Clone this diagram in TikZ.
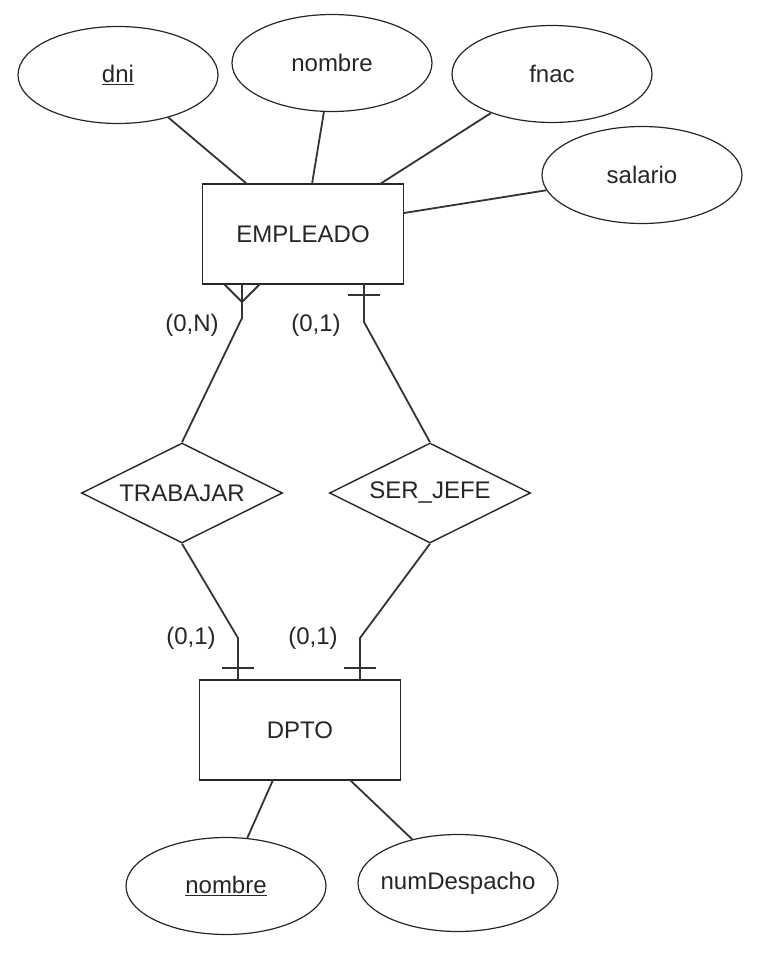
\documentclass[tikz,border=0pt]{standalone}
\usepackage{fontspec}
\setmainfont{Liberation Sans}
\usetikzlibrary{shapes.geometric,calc}
\begin{document}
\begin{tikzpicture}[x=1pt,y=-1pt, line width=1.8pt, draw=black!85, text=black!85,
  font=\fontsize{24}{28}\selectfont,
  attr/.style={draw, ellipse, minimum width=200pt, minimum height=97pt, inner xsep=-30pt, inner ysep=0pt, line width=1.2pt},
  ent/.style={draw, rectangle, minimum width=201pt, minimum height=100pt, inner sep=0pt},
  rel/.style={draw, diamond, aspect=2, minimum width=201pt, minimum height=100pt, inner sep=0pt, line width=1.4pt},
  lbl/.style={inner sep=0pt},
  conn/.style={draw=black!80, line width=1.8pt}]
\useasboundingbox (0,0) rectangle (758,968);

% entities and relations
\node[ent] (emp) at (303,234) {EMPLEADO};
\node[ent] (dpto) at (300,730) {DPTO};
\node[rel] (trab) at (182,493) {TRABAJAR};
\node[rel] (jefe) at (430,493) {SER\_JEFE};

% attributes
\node[attr] (dni) at (118,75) {\underline{dni}};
\node[attr] (nom) at (332,63) {nombre};
\node[attr] (fnac) at (552,74) {fnac};
\node[attr] (sal) at (642,175) {salario};
\node[attr] (dnom) at (226,886) {\underline{nombre}};
\node[attr] (desp) at (458,883) {numDespacho};

% attachment coordinates
\coordinate (e1) at (247,184);
\coordinate (e2) at (312,184);
\coordinate (e3) at (380,184);
\coordinate (e4) at (404,213);
\coordinate (d1) at (273,780);
\coordinate (d2) at (350,780);

\draw[conn] (dni) -- (e1);
\draw[conn] (nom) -- (e2);
\draw[conn] (fnac) -- (e3);
\draw[conn] (sal) -- (e4);
\draw[conn] (d1) -- (dnom);
\draw[conn] (d2) -- (desp);

% EMPLEADO - TRABAJAR (0,N)
\coordinate (a0) at (242,284);
\coordinate (a1) at (242,318);
\coordinate (af) at (242,302);
\draw[conn] (a0) -- (a1) -- (trab.north);
\coordinate (al) at (224,284);
\coordinate (ar) at (260,284);
\draw[conn] (al) -- (af) -- (ar);

% EMPLEADO - SER_JEFE (0,1)
\coordinate (b0) at (364,284);
\coordinate (b1) at (364,322);
\draw[conn] (b0) -- (b1) -- (jefe.north);
\coordinate (bl) at (348,295);
\coordinate (br) at (380,295);
\draw[conn] (bl) -- (br);

% TRABAJAR - DPTO (0,1)
\coordinate (c0) at (238,680);
\coordinate (c1) at (238,638);
\draw[conn] (trab.south) -- (c1) -- (c0);
\coordinate (cl) at (222,668);
\coordinate (cr) at (254,668);
\draw[conn] (cl) -- (cr);

% SER_JEFE - DPTO (0,1)
\coordinate (g0) at (360,680);
\coordinate (g1) at (360,638);
\draw[conn] (jefe.south) -- (g1) -- (g0);
\coordinate (gl) at (344,668);
\coordinate (gr) at (376,668);
\draw[conn] (gl) -- (gr);

% cardinality labels
\node[lbl] (l1) at (192,325) {(0,N)};
\node[lbl] (l2) at (316,325) {(0,1)};
\node[lbl] (l3) at (191,638) {(0,1)};
\node[lbl] (l4) at (313,638) {(0,1)};
\end{tikzpicture}
\end{document}
